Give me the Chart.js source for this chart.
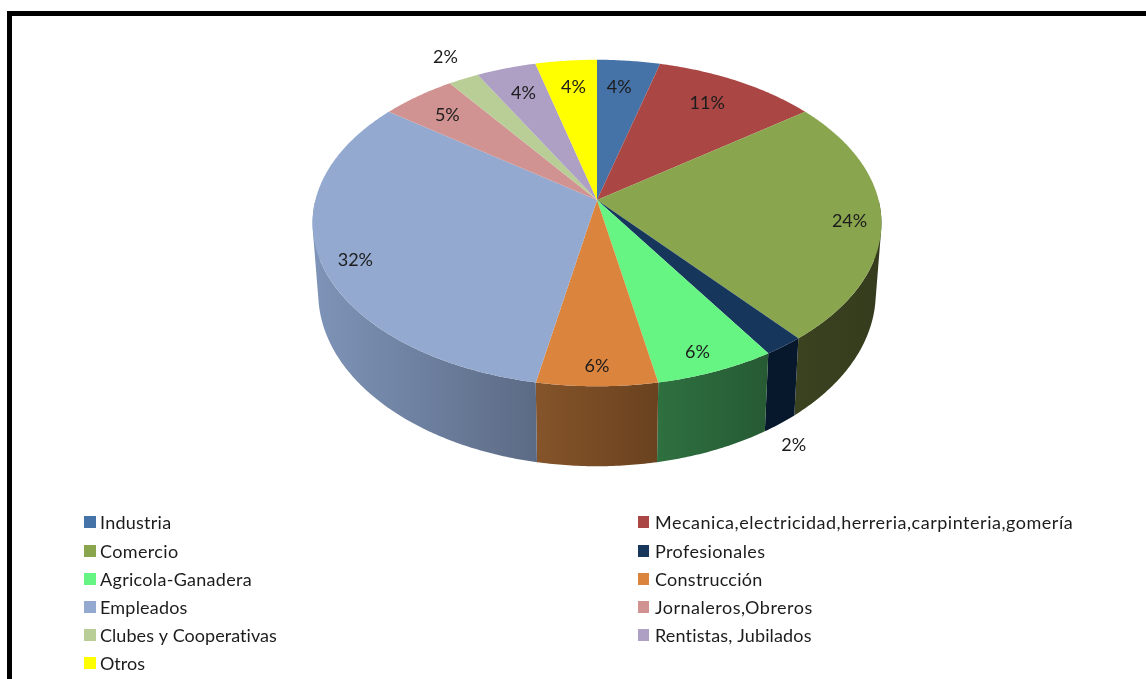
<!DOCTYPE html>
<html lang="es">
<head>
    <meta charset="UTF-8">
    <title>Chart</title>
    <style>
        html,body{margin:0;padding:0;background:#fff;overflow:hidden}
        canvas{display:block}
    </style>
</head>
<body>
    <canvas id="chart" width="1146" height="679"></canvas>
    <script src="https://cdn.jsdelivr.net/npm/chart.js"></script>
    <script type="text/javascript">
        var categories=['Industria','Mecanica,electricidad,herreria,carpinteria,gomería','Comercio','Profesionales','Agricola-Ganadera','Construcción','Empleados','Jornaleros,Obreros','Clubes y Cooperativas','Rentistas, Jubilados','Otros']
        var values=[4.1,10.7,24.2,2,6,6,32.2,4.9,2,3.9,4]

        var topColors=['#4572a7','#aa4643','#89a54e','#16365c','#66f582','#db843d','#93a9cf','#d19392','#b9cd96','#ae9fc4','#ffff00']
        // wall shading, left edge to right edge of each slice
        var wallLeft=['#2c4a6c','#6e2e2c','#3a4220','#07172c','#2e7040','#85542a','#7e94b8','#876060','#788561','#71677f','#a6a600']
        var wallRight=['#2c4a6c','#6e2e2c','#353c1d','#07172c','#265a33','#6a421f','#5c6b85','#876060','#788561','#71677f','#a6a600']

        // label distance from the apex (1 = rim) and angle shift in degrees
        var labelRadius=[.79,.785,.89,1.385,.895,.905,.89,.81,1.195,.79,.785]
        var labelShift=[-1,-1,1.5,11.5,1,0,-2.5,-.7,1,0,.4]
        // source font sets the commas wider, so letter spacing per legend entry
        var legendSpacing=[.25,.52,.35,.4,.3,.25,.2,.5,.05,.15,0]

        var squash=1.76, tilt=.141, wallDepth=68.7, wallShrink=.98

        function project(arc,theta,wall){
            var d=1+tilt*Math.cos(theta)
            var r=arc.outerRadius
            var s=wall?wallShrink:1
            return {
                x:arc.x+r*squash*s*Math.sin(theta)/d,
                y:arc.y-r*Math.cos(theta)/d+(wall?wallDepth/d:0),
                front:Math.cos(theta)<0
            }
        }

        function rimPoints(arc,wall){
            var a=arc.startAngle+Math.PI/2, b=arc.endAngle+Math.PI/2
            var n=Math.max(2,Math.ceil((b-a)/.01)), pts=[]
            for(var i=0;i<=n;i++) pts.push(project(arc,a+(b-a)*i/n,wall))
            return pts
        }

        function drawWall(ctx,arc,i){
            var top=rimPoints(arc,false), low=rimPoints(arc,true)
            var front=top.filter(p=>p.front)
            if(!front.length) return
            var minX=Math.min.apply(null,front.map(p=>p.x)), maxX=Math.max.apply(null,front.map(p=>p.x))
            var g=ctx.createLinearGradient(minX,0,maxX,0)
            g.addColorStop(0,wallLeft[i])
            g.addColorStop(1,wallRight[i])
            ctx.fillStyle=g
            // one path of quads, all wound the same way, so no seams between them
            ctx.beginPath()
            for(var j=0;j<top.length-1;j++){
                if(!top[j].front||!top[j+1].front) continue
                var q=[top[j],top[j+1],low[j+1],low[j]]
                var area=0
                for(var k=0;k<4;k++){
                    var n=q[(k+1)%4]
                    area+=q[k].x*n.y-n.x*q[k].y
                }
                if(area<0) q.reverse()
                ctx.moveTo(q[0].x,q[0].y)
                ctx.lineTo(q[1].x,q[1].y)
                ctx.lineTo(q[2].x,q[2].y)
                ctx.lineTo(q[3].x,q[3].y)
                ctx.closePath()
            }
            ctx.fill()
        }

        function drawTop(ctx,arc,i){
            ctx.fillStyle=topColors[i]
            ctx.beginPath()
            ctx.moveTo(arc.x,arc.y)
            rimPoints(arc,false).forEach(p=>ctx.lineTo(p.x,p.y))
            ctx.closePath()
            ctx.fill()
        }

        var pie3d={
            id:'pie3d',
            beforeDraw(chart){
                var ctx=chart.ctx
                ctx.fillStyle='#000'
                ctx.fillRect(7,11,1139,5)
                ctx.fillRect(7,11,5,668)
            },
            beforeDatasetDraw(chart,args){
                var ctx=chart.ctx, arcs=args.meta.data
                ctx.save()
                arcs.forEach((arc,i)=>drawWall(ctx,arc,i))
                arcs.forEach((arc,i)=>drawTop(ctx,arc,i))

                ctx.fillStyle='#1c1c1c'
                ctx.font='18px Lato'
                ctx.textAlign='center'
                ctx.textBaseline='middle'
                arcs.forEach((arc,i)=>{
                    var mid=(arc.startAngle+arc.endAngle)/2+Math.PI/2+labelShift[i]*Math.PI/180
                    var d=1+tilt*labelRadius[i]*Math.cos(mid)
                    var x=arc.x+arc.outerRadius*squash*labelRadius[i]*Math.sin(mid)/d
                    var y=arc.y-arc.outerRadius*labelRadius[i]*Math.cos(mid)/d
                    ctx.fillText(Math.round(values[i])+'%',x,y)
                })
                ctx.restore()
                return false
            },
            afterDraw(chart){
                // two column legend, row by row
                var ctx=chart.ctx
                var rows=[522,551,579,607,635,663]
                ctx.save()
                ctx.font='18px Lato'
                ctx.textBaseline='middle'
                ctx.textRendering='optimizeSpeed'
                chart.data.labels.forEach((label,i)=>{
                    var col=i%2, y=rows[Math.floor(i/2)]
                    var x=col?638:84
                    ctx.fillStyle=topColors[i]
                    ctx.fillRect(x,y-6,col?11:12,12)
                    ctx.fillStyle='#1c1c1c'
                    ctx.letterSpacing=legendSpacing[i]+'px'
                    ctx.fillText(label,col?655:100,y+1)
                })
                ctx.restore()
            }
        }

        var chart=new Chart(document.getElementById('chart'),{
            type:'pie',
            data:{
                labels:categories,
                datasets:[{data:values,backgroundColor:topColors,borderWidth:0}]
            },
            options:{
                responsive:false,
                animation:false,
                layout:{padding:{top:40,bottom:319,left:48,right:0}},
                plugins:{legend:{display:false},tooltip:{enabled:false}}
            },
            plugins:[pie3d]
        })
    </script>
</body>
</html>
